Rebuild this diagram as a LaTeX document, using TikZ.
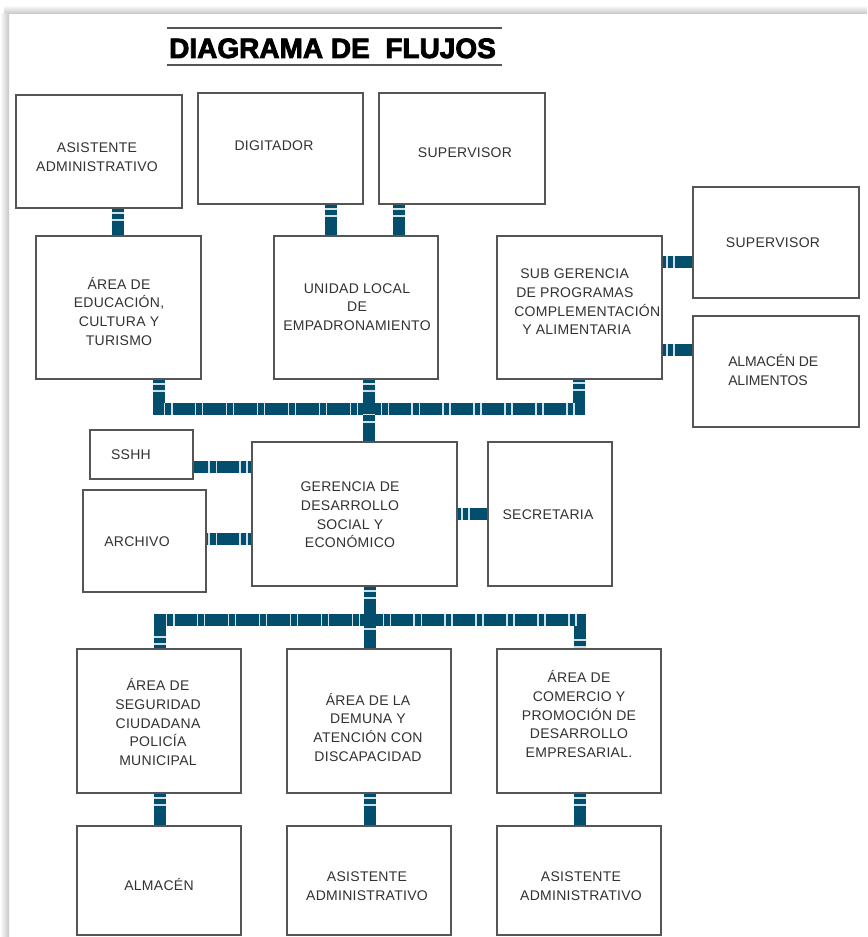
\documentclass[tikz,border=0pt]{standalone}
\usepackage{fontspec}
\setmainfont{Liberation Sans}[LetterSpace=2]
\newfontfamily\titlefont{Liberation Sans}[BoldFeatures={FakeBold=3}]
\newfontfamily\tightfont{Liberation Sans}[LetterSpace=-1]
\usetikzlibrary{fit,calc}
\definecolor{conncol}{RGB}{2,78,108}
\definecolor{stripecol}{RGB}{205,225,233}
\definecolor{boxcol}{RGB}{85,85,85}
\definecolor{txtcol}{RGB}{50,50,50}
\tikzset{
  box/.style={draw=boxcol, line width=1.1pt, inner sep=0pt, fill=white},
  lbl/.style={text=txtcol, font=\fontsize{10.5}{14}\selectfont, align=center, inner sep=0pt},
  conn/.style={draw=conncol, line width=9pt, line join=miter},
  stripes/.style={draw=stripecol, line width=9pt, dash pattern=on 1.1pt off 4.2pt on 1.1pt off 16.8pt, dash phase=20.7pt}
}
\newcommand\linkpath[1]{\draw[conn] #1; \draw[stripes] #1;}
\begin{document}
\begin{tikzpicture}[x=0.75pt,y=-0.75pt]
\useasboundingbox (0,0) rectangle (867,937);
\fill[white] (0,0) rectangle (867,937);
\shade[top color=white, bottom color=black!22] (4,5) rectangle (867,14);
\shade[left color=white, right color=black!22] (0,14) rectangle (9,937);

% title
\node[anchor=base, inner sep=0pt, font=\titlefont\bfseries\fontsize{21}{24}\selectfont] (title) at (332.5,58) {DIAGRAMA DE\ \ FLUJOS};
\draw[boxcol, line width=1.1pt] (167,28) coordinate (tl1) -- (502,28) coordinate (tl2);
\draw[boxcol, line width=1.1pt] (167,65) coordinate (bl1) -- (502,65) coordinate (bl2);

% boxes
\node[box, fit={(16,95) (182,208)}] (asis1) {};
\node[box, fit={(198,93) (363,204)}] (digit) {};
\node[box, fit={(379,93) (545,204)}] (sup1) {};
\node[box, fit={(36,236) (201,379)}] (edu) {};
\node[box, fit={(274,236) (438,379)}] (ulocal) {};
\node[box, fit={(497,236) (662,379)}] (subg) {};
\node[box, fit={(693,187) (859,298)}] (sup2) {};
\node[box, fit={(693,316) (859,427)}] (almal) {};
\node[box, fit={(90,430) (193,479)}] (sshh) {};
\node[box, fit={(83,490) (206,592)}] (arch) {};
\node[box, fit={(252,442) (457,586)}] (ger) {};
\node[box, fit={(488,442) (612,586)}] (secr) {};
\node[box, fit={(77,649) (241,793)}] (seg) {};
\node[box, fit={(287,649) (451,793)}] (dem) {};
\node[box, fit={(497,649) (661,793)}] (com) {};
\node[box, fit={(77,826) (241,935)}] (alm) {};
\node[box, fit={(287,826) (451,935)}] (asis2) {};
\node[box, fit={(497,826) (661,935)}] (asis3) {};

% labels
\node[lbl] (t1) at (97,157) {ASISTENTE\\ADMINISTRATIVO};
\node[lbl] (t2) at (274,146) {DIGITADOR};
\node[lbl] (t3) at (465,153) {SUPERVISOR};
\node[lbl] (t4) at (119,311) {ÁREA DE\\EDUCACIÓN,\\CULTURA Y\\TURISMO};
\node[lbl] (t5) at (357,307) {UNIDAD LOCAL\\DE\\EMPADRONAMIENTO};
\node[lbl, align=left, anchor=west] (t6) at (516,302) {\hspace*{3pt}SUB GERENCIA\\DE PROGRAMAS\\\hspace*{-1.5pt}COMPLEMENTACIÓN\\\hspace*{4.5pt}Y ALIMENTARIA};
\node[lbl, align=left, anchor=west, font=\tightfont\fontsize{10.5}{14}\selectfont] (t8) at (728,370) {ALMACÉN DE\\ALIMENTOS};
\node[lbl] (t7) at (773,243) {SUPERVISOR};
\node[lbl] (t9) at (131,455) {SSHH};
\node[lbl] (t10) at (137,542) {ARCHIVO};
\node[lbl] (t11) at (350,515) {GERENCIA DE\\DESARROLLO\\SOCIAL Y\\ECONÓMICO};
\node[lbl] (t12) at (548,515) {SECRETARIA};
\node[lbl] (t13) at (158,722) {ÁREA DE\\SEGURIDAD\\CIUDADANA\\POLICÍA\\MUNICIPAL};
\node[lbl] (t14) at (368,727) {ÁREA DE LA\\DEMUNA Y\\ATENCIÓN CON\\DISCAPACIDAD};
\node[lbl] (t15) at (579,714) {ÁREA DE\\COMERCIO Y\\PROMOCIÓN DE\\DESARROLLO\\EMPRESARIAL.};
\node[lbl] (t16) at (159,884) {ALMACÉN};
\node[lbl] (t17) at (367,886) {ASISTENTE\\ADMINISTRATIVO};
\node[lbl] (t18) at (581,886) {ASISTENTE\\ADMINISTRATIVO};

% junction coordinates
\coordinate (busTL) at (159,409);
\coordinate (busTC) at (369,409);
\coordinate (busTR) at (579,409);
\coordinate (busBL) at (160,620);
\coordinate (busBC) at (370,620);
\coordinate (busBR) at (580,620);
\path ([shift={(19,0)}]asis1.south) coordinate (c1);
\path ([shift={(50.5,0)}]digit.south) coordinate (c2);
\path ([shift={(-63,0)}]sup1.south) coordinate (c3);
\path ([shift={(0,19.5)}]sup2.west) coordinate (c4);
\path ([shift={(0,-21.5)}]almal.west) coordinate (c5);
\path ([shift={(0,12.5)}]sshh.east) coordinate (c6);
\path ([shift={(0,-2)}]arch.east) coordinate (c7);

% connectors
\linkpath{(c1) -- (c1 |- edu.north)}
\linkpath{(c2) -- (c2 |- ulocal.north)}
\linkpath{(c3) -- (c3 |- ulocal.north)}
\linkpath{(subg.east |- c4) -- (c4)}
\linkpath{(subg.east |- c5) -- (c5)}
\linkpath{(edu.south -| busTL) -- (busTL) -- (busTR) -- (subg.south -| busTR)}
\linkpath{(ulocal.south -| busTC) -- (ger.north -| busTC)}
\linkpath{(ger.west |- c6) -- (c6)}
\linkpath{(ger.west |- c7) -- (c7)}
\linkpath{(ger.east) -- (secr.west)}
\linkpath{(ger.south -| busBC) -- (dem.north -| busBC)}
\linkpath{(seg.north -| busBL) -- (busBL) -- (busBR) -- (com.north -| busBR)}
\linkpath{(seg.south -| busBL) -- (alm.north -| busBL)}
\linkpath{(dem.south -| busBC) -- (asis2.north -| busBC)}
\linkpath{(com.south -| busBR) -- (asis3.north -| busBR)}
\end{tikzpicture}
\end{document}
